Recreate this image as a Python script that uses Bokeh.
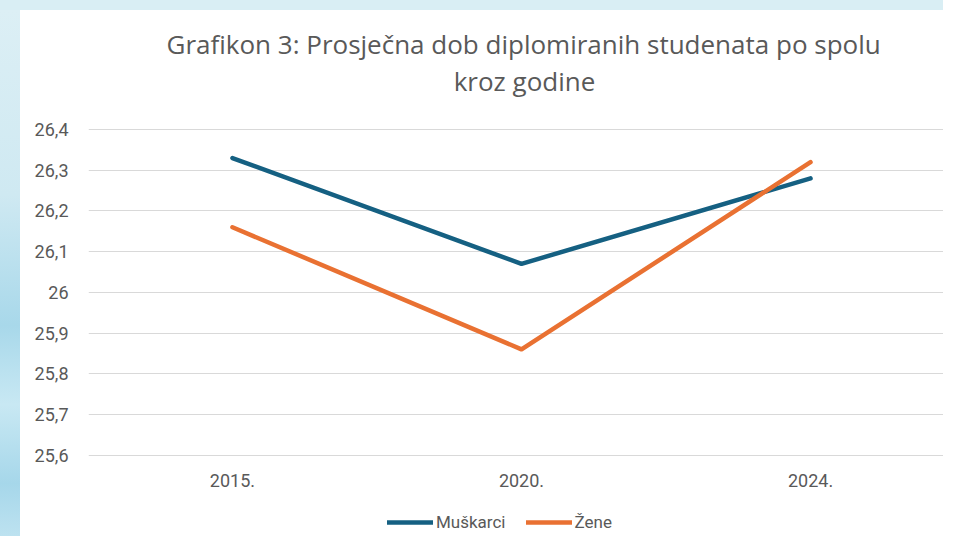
from bokeh.plotting import figure
from bokeh.models import (ColumnDataSource, Range1d, FixedTicker,
                          Legend, LegendItem, Spacer, Label)
from bokeh.layouts import row, column
from bokeh.core.properties import value
from bokeh.embed import file_html
from bokeh.resources import INLINE

# ---- data ----
years = ["2015.", "2020.", "2024."]
muskarci = [26.33, 26.07, 26.28]
zene = [26.16, 25.86, 26.32]
y_ticks = [25.6, 25.7, 25.8, 25.9, 26.0, 26.1, 26.2, 26.3, 26.4]
y_tick_labels = ["25,6", "25,7", "25,8", "25,9", "26", "26,1", "26,2", "26,3", "26,4"]
series_names = ["Muškarci", "Žene"]
title_lines = ["Grafikon 3: Prosječna dob diplomiranih studenata po spolu", "kroz godine"]

BLUE = "#156082"
ORANGE = "#E97132"
GREY_TEXT = "#595959"
FONT = "Roboto"
TITLE_FONT = "Open Sans"

xs = list(range(len(years)))
src = ColumnDataSource(data=dict(x=xs, label=years, m=muskarci, z=zene,
                                 base=[y_ticks[0]] * len(years)))

p = figure(x_range=Range1d(-0.498, 2.46), y_range=Range1d(25.4, 26.555),
           width=923, height=526, output_backend="svg", toolbar_location=None,
           min_border_left=68, min_border_right=0, min_border_top=56, min_border_bottom=0)
p.outline_line_color = None
p.background_fill_color = "white"
p.border_fill_color = "white"

r1 = p.line("x", "m", source=src, line_color=BLUE, line_width=4.5,
            line_cap="round", line_join="round")
r2 = p.line("x", "z", source=src, line_color=ORANGE, line_width=4.5,
            line_cap="round", line_join="round")

# category labels under the lowest gridline
p.text(x="x", y="base", text="label", source=src, text_align="center",
       text_baseline="middle", y_offset=25, text_font=value(FONT),
       text_font_size="18px", text_color=GREY_TEXT)

# axes
p.xaxis.visible = False
p.yaxis.ticker = FixedTicker(ticks=y_ticks)
p.yaxis.major_label_overrides = {t: l for t, l in zip(y_ticks, y_tick_labels)}
ax = p.yaxis[0]
ax.axis_line_color = None
ax.major_tick_line_color = None
ax.minor_tick_line_color = None
ax.major_tick_out = 0
ax.major_tick_in = 0
ax.major_label_text_font = FONT
ax.major_label_text_font_size = "18px"
ax.major_label_text_color = GREY_TEXT
ax.major_label_standoff = 20

p.xgrid.grid_line_color = None
p.ygrid.ticker = FixedTicker(ticks=y_ticks)
p.ygrid.grid_line_color = "#d9d9d9"
p.ygrid.grid_line_width = 1.2

# title, line 1
p.title.text = title_lines[0]
p.title.align = "left"
p.title.offset = 78
p.title.text_font = TITLE_FONT
p.title.text_font_size = "26px"
p.title.text_font_style = "normal"
p.title.text_color = GREY_TEXT
p.title.standoff = 9

# title, line 2
p.add_layout(Label(text=title_lines[1], x=436, y=456, x_units="screen", y_units="screen",
                   text_align="center", text_baseline="alphabetic", text_font=TITLE_FONT,
                   text_font_size="26px", text_color=GREY_TEXT))

legend = Legend(items=[LegendItem(label=series_names[0], renderers=[r1]),
                       LegendItem(label=series_names[1], renderers=[r2])],
                orientation="horizontal", location=(299, 4),
                label_text_font=FONT, label_text_font_size="17px", label_text_color=GREY_TEXT,
                glyph_width=46, glyph_height=20, label_height=20, label_standoff=3, spacing=20,
                padding=0, margin=0, border_line_color=None, background_fill_alpha=0)
p.add_layout(legend, "center")

left_strip = Spacer(width=20, height=526, styles={
    "background": "linear-gradient(to bottom, #dcEff5 0%, #cfe9f2 35%, #a8d8ea 60%, #c8e8f3 75%, #a6d7ea 90%, #bde2f0 100%)"})
top_strip = Spacer(width=943, height=10, styles={"background": "#d9eef4"})
layout = column(top_strip, row(left_strip, p, spacing=0), spacing=0)

open("out.html", "w").write(file_html(layout, INLINE))
